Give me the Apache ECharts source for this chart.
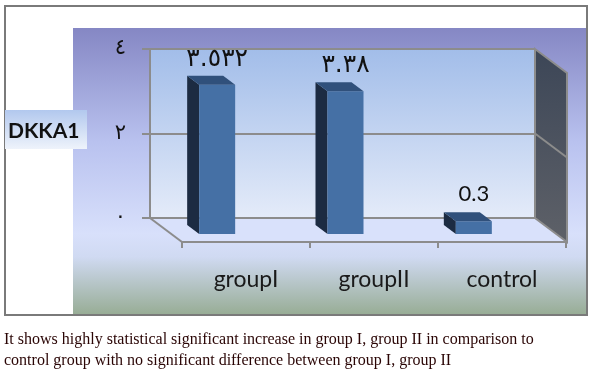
<!DOCTYPE html>
<html>
<head>
<meta charset="utf-8">
<title>DKKA1</title>
<script src="https://cdn.jsdelivr.net/npm/echarts@6/dist/echarts.min.js"></script>
<style>
  html, body { margin: 0; padding: 0; background: #fff; }
  #chartHome { width: 594px; height: 375px; }
</style>
</head>
<body>
<div id="chartHome"></div>
<script>
const categories = ['groupI', 'groupII', 'control']
const values = [3.532, 3.38, 0.3]
const valueLabels = ['٣.٥٣٢', '٣.٣٨', '0.3']
const yTicks = [0, 2, 4]
const yName = 'DKKA1'
const caption = [
  'It shows highly statistical significant increase in group I, group II in comparison to',
  'control group with no significant difference between group I, group II'
]

const arabicDigits = '٠١٢٣٤٥٦٧٨٩'
function toArabic(n) {
  return String(n).replace(/[0-9]/g, function(d) { return arabicDigits[+d] })
}

// back wall of the 3d box, floor depth, bar depth
const back = { x: 150, y: 49, w: 385, h: 169 }
const depth = { dx: 32, dy: 24 }
const barShift = { dx: 3, dy: 16 }
const barW = 36
const barD = { dx: -12, dy: -9 }
const edge = '#8c8c8c'

const chart = echarts.init(document.getElementById('chartHome'))

const option = {
  animation: false,
  graphic: [
    {
      type: 'rect', z: -100,
      shape: { x: 5, y: 6, width: 582, height: 309 },
      style: { fill: '#fff', stroke: '#7a7a7a', lineWidth: 2 }
    },
    {
      type: 'rect', z: -99,
      shape: { x: 73, y: 28, width: 513, height: 286 },
      style: {
        fill: new echarts.graphic.LinearGradient(0, 0, 0, 1, [
          { offset: 0, color: '#8587c4' },
          { offset: 0.4, color: '#b9c2ef' },
          { offset: 0.72, color: '#d8e0fb' },
          { offset: 0.8, color: '#d0daf2' },
          { offset: 1, color: '#98ad96' }
        ])
      }
    },
    {
      // back wall
      type: 'rect', z: -90,
      shape: { x: back.x, y: back.y, width: back.w, height: back.h },
      style: {
        fill: new echarts.graphic.LinearGradient(0, 0, 0, 1, [
          { offset: 0, color: '#a2bde9' },
          { offset: 1, color: '#e4ebf9' }
        ])
      }
    },
    {
      // floor
      type: 'polygon', z: -90,
      shape: { points: [
        [back.x, back.y + back.h], [back.x + back.w, back.y + back.h],
        [back.x + back.w + depth.dx, back.y + back.h + depth.dy], [back.x + depth.dx, back.y + back.h + depth.dy]
      ] },
      style: { fill: '#d9e1fb' }
    },
    {
      type: 'line', z: -80,
      shape: { x1: back.x, y1: back.y + back.h, x2: back.x + depth.dx, y2: back.y + back.h + depth.dy },
      style: { stroke: edge, lineWidth: 2 }
    },
    {
      // right side wall
      type: 'polygon', z: -90,
      shape: { points: [
        [back.x + back.w, back.y], [back.x + back.w + depth.dx, back.y + depth.dy],
        [back.x + back.w + depth.dx, back.y + back.h + depth.dy], [back.x + back.w, back.y + back.h]
      ] },
      style: {
        fill: new echarts.graphic.LinearGradient(0, 0, 0, 1, [
          { offset: 0, color: '#3c4657' },
          { offset: 1, color: '#5e6168' }
        ]),
        stroke: edge, lineWidth: 2
      }
    },
    {
      type: 'line', z: -80,
      shape: { x1: back.x + back.w, y1: back.y + back.h / 2, x2: back.x + back.w + depth.dx, y2: back.y + back.h / 2 + depth.dy },
      style: { stroke: edge, lineWidth: 2 }
    },
    {
      type: 'rect', z: -80,
      shape: { x: 5, y: 110, width: 82, height: 39 },
      style: {
        fill: new echarts.graphic.LinearGradient(0, 0, 0, 1, [
          { offset: 0, color: '#b2c8ee' },
          { offset: 1, color: '#eef3fb' }
        ])
      }
    },
    {
      type: 'text', z: 10, x: 8, y: 131,
      style: { text: yName, font: 'bold 21px Lato', fill: '#111', verticalAlign: 'middle' }
    },
    {
      type: 'text', z: 10, x: 4, y: 340,
      style: { text: caption[0], font: '16px "Liberation Serif"', fill: '#2a0505', verticalAlign: 'middle' }
    },
    {
      type: 'text', z: 10, x: 4, y: 361,
      style: { text: caption[1], font: '16px "Liberation Serif"', fill: '#2a0505', verticalAlign: 'middle' }
    }
  ],
  grid: [
    { left: back.x, top: back.y, width: back.w, height: back.h },
    { left: back.x + barShift.dx, top: back.y + barShift.dy, width: back.w, height: back.h },
    { left: back.x + depth.dx, top: back.y + depth.dy, width: back.w - 1, height: back.h }
  ],
  xAxis: [
    { gridIndex: 0, type: 'category', data: categories, show: false },
    { gridIndex: 1, type: 'category', data: categories, show: false },
    {
      gridIndex: 2, type: 'category', data: categories,
      axisLine: { lineStyle: { color: edge, width: 2 } },
      axisTick: { show: true, length: 6, lineStyle: { color: edge, width: 2 } },
      axisLabel: { margin: 26, fontFamily: 'Lato', fontSize: 23, color: '#1a1a1a' }
    }
  ],
  yAxis: [
    {
      gridIndex: 0, type: 'value', min: yTicks[0], max: yTicks[yTicks.length - 1], interval: 2,
      axisLine: { show: true, lineStyle: { color: edge, width: 2 } },
      axisTick: { show: true, length: 8, lineStyle: { color: edge, width: 2 } },
      splitLine: { lineStyle: { color: edge, width: 2 } },
      axisLabel: {
        margin: 24, fontSize: 21, fontFamily: 'DejaVu Sans', color: '#111',
        formatter: function(v) { return toArabic(v) }
      }
    },
    { gridIndex: 1, type: 'value', min: 0, max: 4, show: false },
    { gridIndex: 2, type: 'value', min: 0, max: 4, show: false }
  ],
  series: [
    {
      type: 'custom',
      xAxisIndex: 1,
      yAxisIndex: 1,
      data: values.map(function(v, i) { return [i, v] }),
      renderItem: function(params, api) {
        const idx = api.value(0)
        const top = api.coord([idx, api.value(1)])
        const bot = api.coord([idx, 0])
        const l = top[0] - barW / 2
        const r = top[0] + barW / 2
        const arabic = params.dataIndex !== 2
        return {
          type: 'group',
          children: [
            {
              type: 'polygon',
              shape: { points: [[l, top[1]], [l + barD.dx, top[1] + barD.dy], [l + barD.dx, bot[1] + barD.dy], [l, bot[1]]] },
              style: { fill: '#1c2b42' }
            },
            {
              type: 'rect',
              shape: { x: l, y: top[1], width: barW, height: bot[1] - top[1] },
              style: { fill: '#4570a5' }
            },
            {
              type: 'polygon',
              shape: { points: [[l, top[1]], [r, top[1]], [r + barD.dx, top[1] + barD.dy], [l + barD.dx, top[1] + barD.dy]] },
              style: { fill: '#30507b' }
            },
            {
              type: 'text',
              x: top[0], y: top[1] - (arabic ? 13 : 16),
              style: {
                text: valueLabels[params.dataIndex],
                font: arabic ? '25px "DejaVu Sans"' : '22px Lato',
                fill: '#111', align: 'center', verticalAlign: 'bottom'
              }
            }
          ]
        }
      }
    }
  ]
}

chart.setOption(option)
</script>
</body>
</html>
